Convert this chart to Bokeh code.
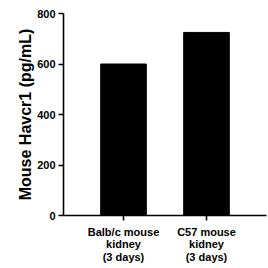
from bokeh.plotting import figure
from bokeh.models import FixedTicker, Range1d
from bokeh.embed import file_html
from bokeh.resources import INLINE

categories = ["Balb/c mouse\nkidney\n(3 days)", "C57 mouse\nkidney\n(3 days)"]
values = [600, 725]
y_ticks = [0, 200, 400, 600, 800]

xs = [i + 1 for i in range(len(categories))]

p = figure(width=268, height=268, output_backend="svg", toolbar_location=None,
           x_range=Range1d(0.277, 2.723), y_range=Range1d(0, 800),
           min_border_left=63, min_border_right=2, min_border_top=13, min_border_bottom=53)
p.outline_line_color = None
p.grid.visible = False
p.background_fill_color = "white"

p.vbar(x=xs, top=values, width=0.55, color="black", line_color="black")

font = "Liberation Sans"
p.yaxis.ticker = FixedTicker(ticks=y_ticks)
p.yaxis.axis_label = "Mouse Havcr1 (pg/mL)"
p.yaxis.axis_label_text_font = font
p.yaxis.axis_label_text_font_style = "bold"
p.yaxis.axis_label_text_font_size = "16px"
p.yaxis.axis_label_text_color = "black"
p.yaxis.axis_label_standoff = 0
p.xaxis.ticker = FixedTicker(ticks=xs)
p.xaxis.major_label_overrides = {x: c for x, c in zip(xs, categories)}
p.xaxis.major_label_text_line_height = 1.08

for ax in (p.xaxis, p.yaxis):
    ax.axis_line_width = 1.6
    ax.axis_line_color = "black"
    ax.major_tick_line_width = 1.6
    ax.major_tick_out = 5
    ax.major_tick_in = 0
    ax.minor_tick_line_color = None
    ax.major_label_text_font = font
    ax.major_label_text_font_style = "bold"
    ax.major_label_text_font_size = "11px"
    ax.major_label_text_color = "black"
    ax.major_label_standoff = 3
p.xaxis.major_label_standoff = 5

open("out.html", "w").write(file_html(p, INLINE))
